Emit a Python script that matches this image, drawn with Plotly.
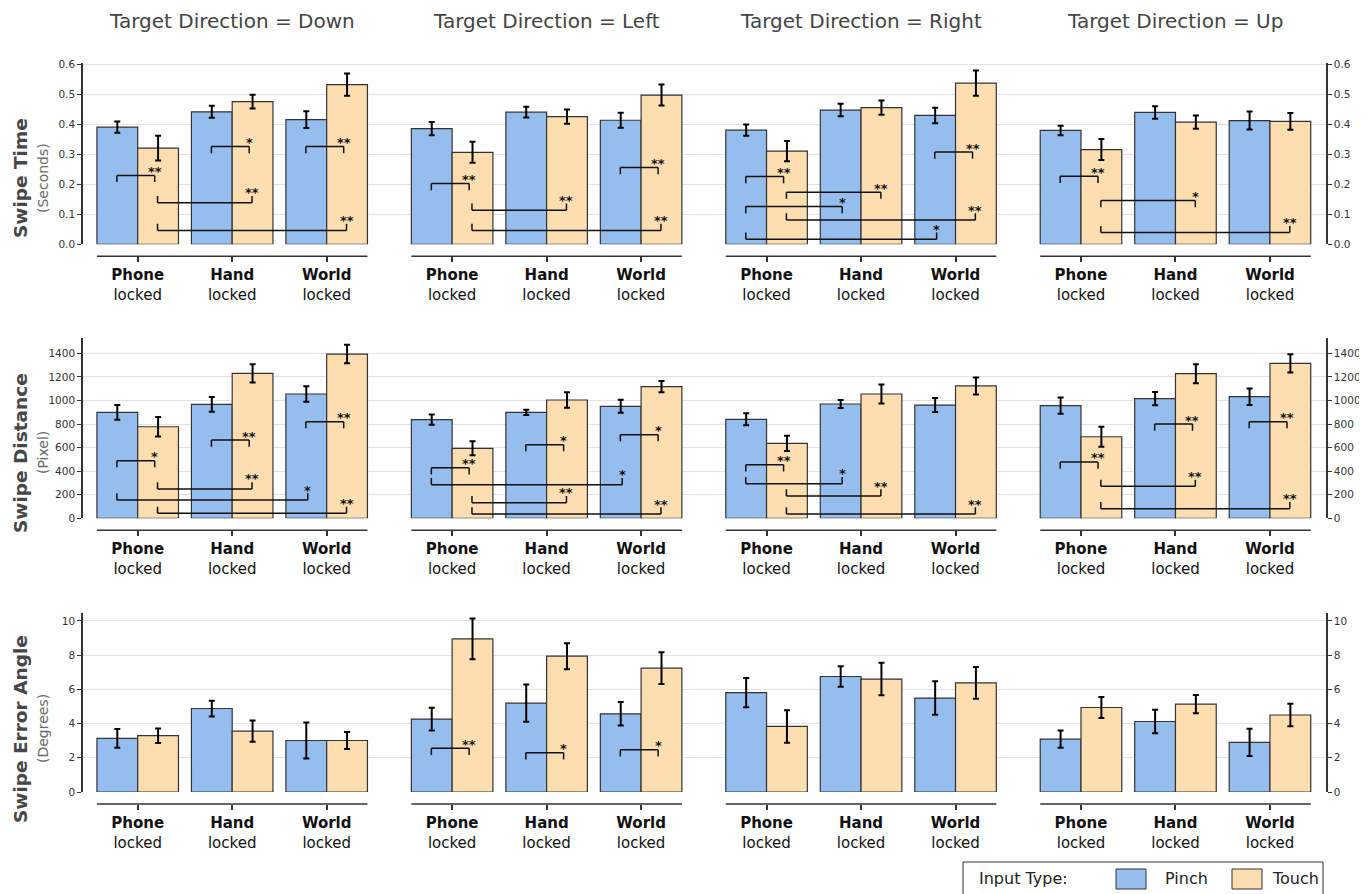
import plotly.graph_objects as go

# ---------------- data ----------------
categories = ["Phone", "Hand", "World"]
category_labels = ["<b>Phone</b><br>locked", "<b>Hand</b><br>locked", "<b>World</b><br>locked"]
directions = ["Down", "Left", "Right", "Up"]
input_types = ["Pinch", "Touch"]

# rows of each list follow `directions`, columns follow `categories`
time_pinch = [[0.391, 0.442, 0.416], [0.386, 0.441, 0.414], [0.381, 0.448, 0.430], [0.380, 0.440, 0.413]]
time_pinch_err = [[0.019, 0.020, 0.028], [0.022, 0.018, 0.025], [0.019, 0.021, 0.026], [0.016, 0.021, 0.030]]
time_touch = [[0.321, 0.476, 0.533], [0.307, 0.426, 0.498], [0.311, 0.456, 0.538], [0.316, 0.408, 0.410]]
time_touch_err = [[0.041, 0.023, 0.037], [0.035, 0.024, 0.035], [0.034, 0.024, 0.042], [0.035, 0.022, 0.028]]

dist_pinch = [[899, 967, 1055], [837, 899, 950], [840, 970, 961], [956, 1015, 1032]]
dist_pinch_err = [[63, 62, 65], [44, 22, 55], [51, 34, 60], [69, 56, 70]]
dist_touch = [[777, 1230, 1394], [594, 1004, 1117], [636, 1055, 1123], [692, 1227, 1315]]
dist_touch_err = [[83, 78, 79], [60, 65, 48], [65, 80, 72], [85, 81, 78]]

angle_pinch = [[3.13, 4.88, 3.01], [4.26, 5.20, 4.57], [5.81, 6.75, 5.49], [3.09, 4.12, 2.90]]
angle_pinch_err = [[0.55, 0.46, 1.05], [0.66, 1.09, 0.69], [0.86, 0.60, 0.98], [0.50, 0.69, 0.79]]
angle_touch = [[3.29, 3.56, 3.01], [8.95, 7.94, 7.24], [3.83, 6.60, 6.38], [4.94, 5.14, 4.50]]
angle_touch_err = [[0.42, 0.62, 0.50], [1.19, 0.76, 0.93], [0.95, 0.95, 0.93], [0.61, 0.53, 0.66]]

# significance comparisons: (direction, cat A, input A, cat B, input B, level, legs, label)
time_sig = [
    ("Down", "Phone", "Pinch", "Phone", "Touch", 0.230, "down", "**"),
    ("Down", "Hand", "Pinch", "Hand", "Touch", 0.326, "down", "*"),
    ("Down", "World", "Pinch", "World", "Touch", 0.326, "down", "**"),
    ("Down", "Phone", "Touch", "Hand", "Touch", 0.139, "up", "**"),
    ("Down", "Phone", "Touch", "World", "Touch", 0.046, "up", "**"),
    ("Left", "Phone", "Pinch", "Phone", "Touch", 0.203, "down", "**"),
    ("Left", "Phone", "Touch", "Hand", "Touch", 0.114, "up", "**"),
    ("Left", "World", "Pinch", "World", "Touch", 0.256, "down", "**"),
    ("Left", "Phone", "Touch", "World", "Touch", 0.046, "up", "**"),
    ("Right", "Phone", "Pinch", "Phone", "Touch", 0.226, "down", "**"),
    ("Right", "Phone", "Touch", "Hand", "Touch", 0.174, "down", "**"),
    ("Right", "Phone", "Pinch", "Hand", "Pinch", 0.126, "down", "*"),
    ("Right", "World", "Pinch", "World", "Touch", 0.308, "down", "**"),
    ("Right", "Phone", "Touch", "World", "Touch", 0.081, "up", "**"),
    ("Right", "Phone", "Pinch", "World", "Pinch", 0.017, "up", "*"),
    ("Up", "Phone", "Pinch", "Phone", "Touch", 0.227, "down", "**"),
    ("Up", "Phone", "Touch", "Hand", "Touch", 0.146, "down", "*"),
    ("Up", "Phone", "Touch", "World", "Touch", 0.039, "up", "**"),
]
dist_sig = [
    ("Down", "Phone", "Pinch", "Phone", "Touch", 489, "down", "*"),
    ("Down", "Hand", "Pinch", "Hand", "Touch", 664, "down", "**"),
    ("Down", "World", "Pinch", "World", "Touch", 820, "down", "**"),
    ("Down", "Phone", "Touch", "Hand", "Touch", 249, "up", "**"),
    ("Down", "Phone", "Pinch", "World", "Pinch", 155, "up", "*"),
    ("Down", "Phone", "Touch", "World", "Touch", 42, "up", "**"),
    ("Left", "Phone", "Pinch", "Phone", "Touch", 429, "down", "**"),
    ("Left", "Hand", "Pinch", "Hand", "Touch", 625, "down", "*"),
    ("Left", "World", "Pinch", "World", "Touch", 710, "down", "*"),
    ("Left", "Phone", "Pinch", "World", "Pinch", 285, "up", "*"),
    ("Left", "Phone", "Touch", "Hand", "Touch", 132, "up", "**"),
    ("Left", "Phone", "Touch", "World", "Touch", 36, "up", "**"),
    ("Right", "Phone", "Pinch", "Phone", "Touch", 455, "down", "**"),
    ("Right", "Phone", "Pinch", "Hand", "Pinch", 294, "up", "*"),
    ("Right", "Phone", "Touch", "Hand", "Touch", 189, "up", "**"),
    ("Right", "Phone", "Touch", "World", "Touch", 36, "up", "**"),
    ("Up", "Phone", "Pinch", "Phone", "Touch", 478, "down", "**"),
    ("Up", "Hand", "Pinch", "Hand", "Touch", 800, "down", "**"),
    ("Up", "World", "Pinch", "World", "Touch", 820, "down", "**"),
    ("Up", "Phone", "Touch", "Hand", "Touch", 271, "up", "**"),
    ("Up", "Phone", "Touch", "World", "Touch", 82, "up", "**"),
]
angle_sig = [
    ("Left", "Phone", "Pinch", "Phone", "Touch", 2.55, "down", "**"),
    ("Left", "Hand", "Pinch", "Hand", "Touch", 2.29, "down", "*"),
    ("Left", "World", "Pinch", "World", "Touch", 2.47, "down", "*"),
]

metric_titles = ["Swipe Time", "Swipe Distance", "Swipe Error Angle"]
metric_units = ["(Seconds)", "(Pixel)", "(Degrees)"]
y_ticks = [[0, 0.1, 0.2, 0.3, 0.4, 0.5, 0.6], [0, 200, 400, 600, 800, 1000, 1200, 1400], [0, 2, 4, 6, 8, 10]]
y_tick_format = [".1f", "d", "d"]
y_max = [0.605, 1530, 10.48]

# ---------------- styling / layout ----------------
COLORS = {"Pinch": "#95bdee", "Touch": "#fddeb0"}
FONT = "DejaVu Sans"
W, H = 1367, 894
OFF = 8                      # page offset of the figure (body margin)
L, R, T, B = 75, 49, 55, 40  # figure margins
PW, PH = W - L - R, H - T - B

# page-pixel geometry
PLOT_LEFT, PLOT_RIGHT = 83, 1326
COL_W = (PLOT_RIGHT - PLOT_LEFT) / 4
CAT_STEP = 94.49
FIRST_CENTER = 137.7
COL_STEP = 314.43
row_px = [(63, 244.3), (338, 518.3), (612.7, 792)]
BAR_HALF = 0.4315  # half of group width (bargap 0.137)


def xp(px):
    return (px - OFF - L) / PW


def yp(py):
    return (H - B - (py - OFF)) / PH


metrics = [
    (time_pinch, time_pinch_err, time_touch, time_touch_err, time_sig),
    (dist_pinch, dist_pinch_err, dist_touch, dist_touch_err, dist_sig),
    (angle_pinch, angle_pinch_err, angle_touch, angle_touch_err, angle_sig),
]

fig = go.Figure()
shapes = []
annotations = []
xpos = list(range(len(categories)))

for r, (p_vals, p_err, t_vals, t_err, sigs) in enumerate(metrics):
    for c, d in enumerate(directions):
        idx = r * 4 + c + 1
        xa, ya = f"x{idx}", f"y{idx}"
        left_px = PLOT_LEFT + c * COL_W
        x0r = -(FIRST_CENTER + c * COL_STEP - left_px) / CAT_STEP
        x_range = [x0r, x0r + COL_W / CAT_STEP]
        for name, vals, errs in (("Pinch", p_vals, p_err), ("Touch", t_vals, t_err)):
            fig.add_trace(go.Bar(
                x=xpos, y=vals[c], name=name, xaxis=xa, yaxis=ya,
                marker=dict(color=COLORS[name], line=dict(color="#333333", width=1.2)),
                error_y=dict(type="data", array=errs[c], color="black", thickness=2, width=3),
                showlegend=False,
                hovertemplate=name + ": %{y}<extra></extra>",
            ))
        line_y = yp(row_px[r][1] + 12)
        fig.layout[f"xaxis{idx}"] = dict(
            domain=[xp(left_px), xp(left_px + COL_W)],
            range=x_range, anchor="free", position=line_y,
            showline=False, showgrid=False, zeroline=False,
            tickmode="array", tickvals=xpos, ticktext=category_labels,
            ticks="outside", ticklen=5, tickwidth=1.5, tickcolor="#333333",
            tickfont=dict(family=FONT, size=15, color="#111111"),
            fixedrange=True,
        )
        edge = c in (0, 3)
        fig.layout[f"yaxis{idx}"] = dict(
            domain=[yp(row_px[r][1]), yp(row_px[r][0])],
            range=[0, y_max[r]], anchor=xa,
            side="right" if c == 3 else "left",
            showgrid=True, gridcolor="#e2e2e2", gridwidth=1.3, zeroline=False,
            tickmode="array", tickvals=y_ticks[r], tickformat=y_tick_format[r],
            showticklabels=edge, ticks="outside" if edge else "",
            ticklen=4, tickwidth=1.2, tickcolor="#333333",
            showline=edge, linecolor="#333333", linewidth=1.5,
            tickfont=dict(family=FONT, size=10.5, color="#333333"),
            fixedrange=True,
        )
        # category axis line spanning the bars
        shapes.append(dict(type="line", xref=xa, yref="paper",
                           x0=-BAR_HALF, x1=len(categories) - 1 + BAR_HALF, y0=line_y, y1=line_y,
                           line=dict(color="#333333", width=1.5)))
        # significance brackets
        leg = 6.7 / (row_px[r][1] - row_px[r][0]) * y_max[r]
        for (dd, ca, ia, cb, ib, lvl, legs, lab) in sigs:
            if dd != d:
                continue
            within = ca == cb

            def off(inp, right_end):
                if inp == "Pinch":
                    return -0.22 if (within or not right_end) else -0.20
                return 0.18 if within else 0.21
            xa0 = categories.index(ca) + off(ia, False)
            xb0 = categories.index(cb) + off(ib, True)
            tip = lvl - leg if legs == "down" else lvl + leg
            for (x0, y0, x1, y1) in ((xa0, tip, xa0, lvl), (xa0, lvl, xb0, lvl), (xb0, lvl, xb0, tip)):
                shapes.append(dict(type="line", xref=xa, yref=ya, x0=x0, y0=y0, x1=x1, y1=y1,
                                   line=dict(color="#111111", width=1.5)))
            annotations.append(dict(x=xb0, y=lvl, xref=xa, yref=ya, text="<b>" + lab + "</b>",
                                    showarrow=False, yanchor="middle", xanchor="center",
                                    yshift=4 if legs == "down" else 10,
                                    font=dict(family=FONT, size=13, color="#111111")))

# column titles
for c, d in enumerate(directions):
    annotations.append(dict(x=xp(FIRST_CENTER + CAT_STEP + c * COL_STEP), y=yp(20.5), xref="paper", yref="paper",
                            text=f"Target Direction = {d}", showarrow=False,
                            xanchor="center", yanchor="middle",
                            font=dict(family=FONT, size=20, color="#444444")))

# row titles
row_centers = [178, 453, 729]
for r in range(3):
    annotations.append(dict(x=xp(20), y=yp(row_centers[r]), xref="paper", yref="paper",
                            text=f"<b>{metric_titles[r]}</b>", showarrow=False, textangle=-90,
                            xanchor="center", yanchor="middle",
                            font=dict(family=FONT, size=18.5, color="#474747")))
    annotations.append(dict(x=xp(43), y=yp(row_centers[r]), xref="paper", yref="paper",
                            text=metric_units[r], showarrow=False, textangle=-90,
                            xanchor="center", yanchor="middle",
                            font=dict(family=FONT, size=14, color="#6a6a6a")))

# legend box
shapes.append(dict(type="rect", xref="paper", yref="paper", x0=xp(963), x1=xp(1323), y0=yp(905), y1=yp(862),
                   line=dict(color="#333333", width=1), fillcolor="white"))
annotations.append(dict(x=xp(977), y=yp(879), xref="paper", yref="paper", text="Input Type:",
                        showarrow=False, xanchor="left", yanchor="middle",
                        font=dict(family=FONT, size=16, color="#222222")))
for name, sx, tx in (("Pinch", 1116, 1163), ("Touch", 1232, 1270)):
    shapes.append(dict(type="rect", xref="paper", yref="paper", x0=xp(sx), x1=xp(sx + 30), y0=yp(889), y1=yp(869),
                       line=dict(color="#333333", width=1), fillcolor=COLORS[name]))
    annotations.append(dict(x=xp(tx), y=yp(879), xref="paper", yref="paper", text=name,
                            showarrow=False, xanchor="left", yanchor="middle",
                            font=dict(family=FONT, size=16, color="#222222")))

fig.update_layout(
    width=W, height=H,
    margin=dict(l=L, r=R, t=T, b=B, autoexpand=False),
    barmode="group", bargap=0.137, bargroupgap=0,
    plot_bgcolor="white", paper_bgcolor="white",
    font=dict(family=FONT, color="#333333"),
    shapes=shapes, annotations=annotations,
    showlegend=False,
)

fig.write_html("out.html")
